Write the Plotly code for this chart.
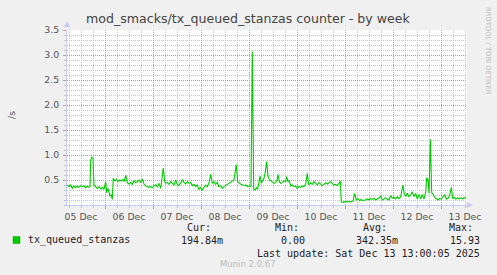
import pandas as pd
import plotly.graph_objects as go

# ---------------- data ----------------
start_time = "2025-12-05 05:00"
hours = [
    0.15, 1, 1.85, 2.65, 3.5, 4.35, 5.15, 6, 6.85, 7.65, 8.5, 9.35, 10.15, 11, 11.5, 11.85,
    12.35, 13, 13.5, 14.35, 15.15, 16, 16.85, 17.65, 18.5, 19.35, 19.85, 20.5, 21, 21.5,
    22.15, 22.65, 23.15, 23.85, 24.65, 25.5, 26.35, 27.15, 28, 28.65, 29.35, 30.15, 31,
    31.85, 32.65, 33.5, 34.35, 35.15, 36, 36.85, 37.65, 38.5, 39.35, 40.15, 41, 41.85,
    42.65, 43.5, 44.35, 45.15, 46, 46.85, 47.5, 48.15, 48.85,
    49.35, 50.15, 51, 51.85, 52.65, 53.5, 54.35, 55.15, 56, 56.85, 57.65, 58.5, 59.35,
    60.15, 61, 61.85, 62.65, 63.5, 64.35, 65.15, 66, 66.85, 67.65, 68.5, 69.35, 70.15, 71,
    71.85, 72.65, 73.5, 74.35, 75.15, 76, 76.85, 77.65, 78.5, 79.35, 80.15, 81, 81.85,
    82.65, 83.5, 84.15, 84.65, 85.35, 86.15, 87, 87.85, 88.65, 89.5, 90.35, 91.15, 92,
    92.65, 93.35, 94, 94.65, 95.35, 96, 96.5, 97.15, 97.85, 98.5,
    99, 99.85, 100.5, 101.15, 101.85, 102.65, 103.5, 104.35, 105, 105.5, 106.15, 106.85,
    107.65, 108.5, 109.35, 109.85, 110.5, 111.15, 111.85, 112.65, 113.5, 114.35, 115.15,
    116, 116.85, 117.65, 118.5, 119.35, 120.15, 120.85, 121.85, 122.65, 123.5, 124.35,
    125.15, 126, 126.85, 127.65, 128.5, 129.35, 130.15, 131, 131.85, 132.65, 133.5,
    134.35, 135.15, 136, 136.65, 137.15, 138, 138.85, 139.65, 140.5, 141.35, 142.15, 143,
    143.85, 144.65, 145.5, 146.35, 147.15, 148, 148.85,
    149.35, 150.15, 151, 151.85, 152.65, 153.5, 154.35, 155.15, 156, 156.85, 157.65,
    158.5, 159.35, 160.15, 161, 161.85, 162.65, 163.5, 164.35, 165.15, 166, 166.85, 167.5,
    168, 168.65, 169.5, 170.15, 171, 171.85, 172.65, 173.5, 174.35, 175.15, 176, 176.85,
    177.65, 178.5, 179.35, 179.85, 180.5, 181, 181.65, 182.35, 183, 183.85, 184.65, 185.5,
    186.35, 187.15, 188, 188.85, 189.65, 190.5, 191.35, 192.15, 192.85, 193.65, 194.5,
    195.35, 196.15, 197, 197.85, 198.65, 199.5,
]
values = [
    0.40, 0.367, 0.40, 0.333, 0.38, 0.347, 0.38, 0.353, 0.387, 0.367, 0.38, 0.347, 0.38, 0.353, 0.37, 0.90,
    0.953, 0.933, 0.40, 0.353, 0.333, 0.367, 0.32, 0.353, 0.313, 0.467, 0.247, 0.333, 0.233, 0.18,
    0.20, 0.113, 0.533, 0.487, 0.513, 0.467, 0.50, 0.48, 0.513, 0.467, 0.60, 0.447, 0.42,
    0.453, 0.413, 0.487, 0.447, 0.467, 0.50, 0.447, 0.52, 0.42, 0.38, 0.367, 0.353, 0.367,
    0.347, 0.38, 0.407, 0.367, 0.433, 0.333, 0.50, 0.74, 0.467,
    0.433, 0.453, 0.413, 0.467, 0.433, 0.40, 0.50, 0.413, 0.387, 0.447, 0.50, 0.453, 0.42,
    0.467, 0.433, 0.453, 0.387, 0.413, 0.367, 0.40, 0.313, 0.347, 0.30, 0.353, 0.40, 0.367, 0.447,
    0.613, 0.433, 0.467, 0.413, 0.453, 0.367, 0.387, 0.333, 0.367, 0.387, 0.413, 0.433, 0.453,
    0.467, 0.50, 0.667, 0.81, 0.467, 0.433, 0.413, 0.40, 0.387, 0.40, 0.367, 0.38, 0.367,
    3.07, 0.313, 0.30, 0.347, 0.313, 0.433, 0.58, 0.433, 0.487, 0.533,
    0.633, 0.867, 0.58, 0.513, 0.487, 0.467, 0.433, 0.453, 0.487, 0.613, 0.467, 0.433,
    0.447, 0.487, 0.467, 0.567, 0.467, 0.487, 0.38, 0.40, 0.367, 0.38, 0.333,
    0.367, 0.353, 0.38, 0.367, 0.42, 0.633, 0.40, 0.447, 0.413, 0.467, 0.433,
    0.40, 0.447, 0.42, 0.387, 0.413, 0.447, 0.42, 0.453, 0.467, 0.433, 0.40,
    0.413, 0.387, 0.433, 0.48, 0.067, 0.053, 0.067, 0.06, 0.073, 0.06, 0.067, 0.08,
    0.233, 0.10, 0.127, 0.087, 0.113, 0.087, 0.10,
    0.10, 0.12, 0.10, 0.133, 0.113, 0.133, 0.10, 0.12, 0.14, 0.18, 0.10,
    0.12, 0.147, 0.113, 0.10, 0.187, 0.133, 0.153, 0.12, 0.167, 0.127, 0.167, 0.30,
    0.40, 0.213, 0.18, 0.233, 0.167, 0.20, 0.267, 0.167, 0.233, 0.12, 0.213, 0.12,
    0.213, 0.12, 0.267, 0.547, 0.50, 0.233, 1.313, 0.247, 0.22, 0.153, 0.12, 0.10,
    0.133, 0.113, 0.167, 0.20, 0.12, 0.133, 0.20, 0.353, 0.133, 0.153, 0.12,
    0.147, 0.12, 0.147, 0.12, 0.147, 0.133,
]
series_name = "tx_queued_stanzas"
title_text = "mod_smacks/tx_queued_stanzas counter - by week"
y_unit = "/s"
y_tick_values = [0.5, 1.0, 1.5, 2.0, 2.5, 3.0, 3.5]
stat_headers = ["Cur:", "Min:", "Avg:", "Max:"]
stat_values = ["194.84m", "0.00", "342.35m", "15.93"]
last_update = "Last update: Sat Dec 13 13:00:05 2025"
span_hours = 200

# ---------------- figure ----------------
t0 = pd.Timestamp(start_time)
times = [t0 + pd.Timedelta(hours=h) for h in hours]
t_end = t0 + pd.Timedelta(hours=span_hours)

W, H = 497, 275
L, R, T, B = 67, 467, 30, 205  # plot area in pixels


def px(x):
    return (x - L) / (R - L)


def py(y):
    return (B - y) / (B - T)


fig = go.Figure()
fig.add_trace(go.Scatter(
    x=times, y=values, mode="lines", name=series_name,
    line=dict(color="#00cc00", width=1.1), showlegend=False,
))

major_col = "#e48888"
minor_col = "#c4c4c4"
axis_col = "#c4ccf4"
tick_font = dict(family="DejaVu Sans", size=9.3, color="#555555")
dash = "1px,1px"

fig.update_layout(
    width=W, height=H,
    margin=dict(l=L, r=W - R, t=T, b=H - B, pad=0),
    paper_bgcolor="#f0f0f0",
    plot_bgcolor="#ffffff",
    showlegend=False,
    xaxis=dict(
        type="date",
        range=[t0, t_end],
        tick0="2025-12-05 00:00",
        dtick=86400000,
        tickformat="%d %b",
        ticklabelmode="period",
        showgrid=True, gridcolor=major_col, griddash=dash, gridwidth=1,
        ticks="outside", ticklen=3, tickcolor=major_col,
        minor=dict(dtick=6 * 3600000, showgrid=True, gridcolor=minor_col,
                   griddash=dash, ticks="outside", ticklen=2, tickcolor=minor_col),
        showline=True, linecolor=axis_col, linewidth=1,
        zeroline=False,
        tickfont=tick_font,
        fixedrange=True,
    ),
    yaxis=dict(
        range=[0, 3.5],
        tickmode="array",
        tickvals=y_tick_values,
        ticktext=[f"{v:.1f}" for v in y_tick_values],
        showgrid=True, gridcolor=major_col, griddash=dash, gridwidth=1,
        ticks="outside", ticklen=3, tickcolor=major_col,
        ticklabelstandoff=2,
        minor=dict(dtick=0.1, tick0=0, showgrid=True, gridcolor=minor_col,
                   griddash=dash, ticks="outside", ticklen=2, tickcolor=minor_col),
        showline=True, linecolor=axis_col, linewidth=1,
        zeroline=False,
        tickfont=tick_font,
        fixedrange=True,
    ),
)

# axis arrows
fig.add_shape(type="path", xref="paper", yref="paper",
              path=f"M {px(64)} {py(27)} L {px(70)} {py(27)} L {px(67)} {py(21)} Z",
              fillcolor=axis_col, line=dict(color=axis_col, width=0))
fig.add_shape(type="path", xref="paper", yref="paper",
              path=f"M {px(467)} {py(202)} L {px(467)} {py(208)} L {px(473)} {py(205)} Z",
              fillcolor=axis_col, line=dict(color=axis_col, width=0))

ann = []
ann.append(dict(text=title_text, x=px(248.5), y=py(18), xanchor="center", yanchor="middle",
                font=dict(family="DejaVu Sans", size=12.6, color="#444444")))
ann.append(dict(text=y_unit, x=px(11), y=py(115), xanchor="center", yanchor="middle",
                textangle=-90, font=dict(family="DejaVu Sans", size=9.3, color="#555555")))
ann.append(dict(text="RRDTOOL / TOBI OETIKER", x=px(488), y=py(5), xanchor="center",
                yanchor="top", textangle=90,
                font=dict(family="DejaVu Sans", size=6.8, color="#bbbbbb")))

mono = dict(family="DejaVu Sans Mono", size=10, color="#222222")
head_x = [185, 273, 361, 447]
val_x = [179, 279, 354, 448]
for hx, htxt in zip(head_x, stat_headers):
    ann.append(dict(text=htxt, x=px(hx), y=py(227), xanchor="left", yanchor="middle", font=mono))
for vx, vtxt in zip(val_x, stat_values):
    ann.append(dict(text=vtxt, x=px(vx), y=py(240), xanchor="left", yanchor="middle", font=mono))
ann.append(dict(text=series_name, x=px(26), y=py(240), xanchor="left", yanchor="middle", font=mono))
ann.append(dict(text=last_update, x=px(482), y=py(253), xanchor="right", yanchor="middle", font=mono))
ann.append(dict(text="Munin 2.0.67", x=px(247.5), y=py(264), xanchor="center", yanchor="middle",
                font=dict(family="DejaVu Sans", size=8.5, color="#bbbbbb")))
for a in ann:
    a.update(xref="paper", yref="paper", showarrow=False)
fig.update_layout(annotations=ann)

# legend colour box
fig.add_shape(type="rect", xref="paper", yref="paper",
              x0=px(13), x1=px(20), y0=py(243.5), y1=py(236.5),
              fillcolor="#00cc00", line=dict(color="#00a000", width=0.5))

fig.write_html("out.html")
